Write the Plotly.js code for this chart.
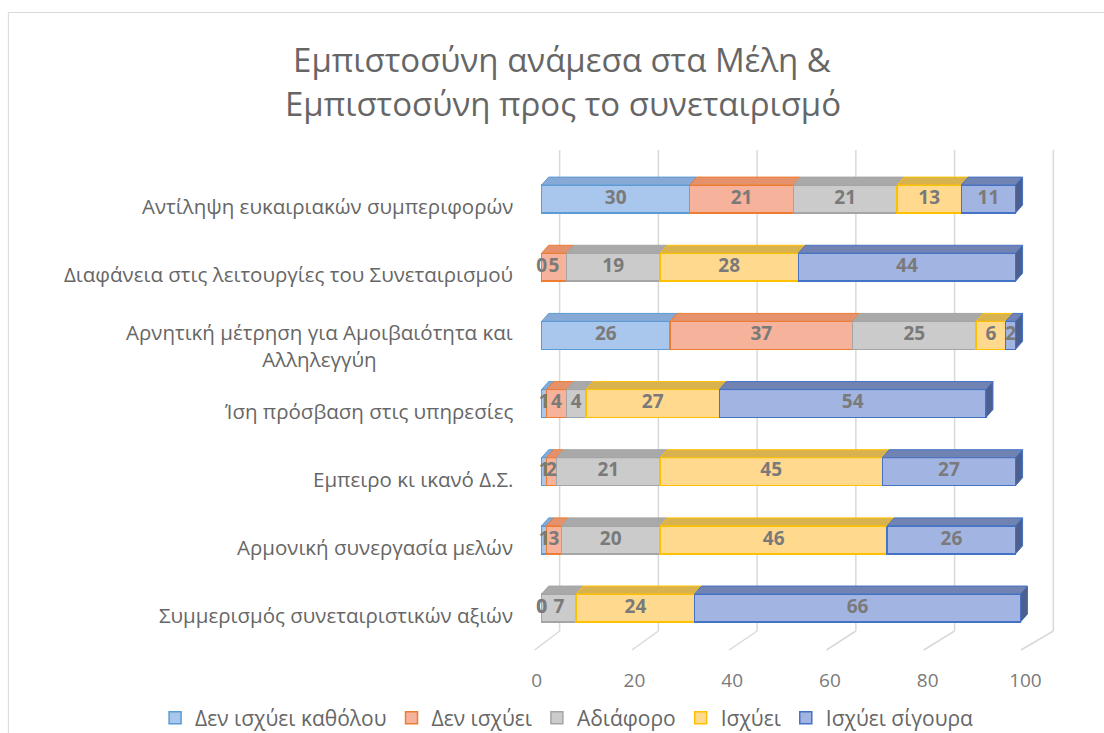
<!DOCTYPE html>
<html>
<head>
<meta charset="utf-8">
<script src="https://cdn.plot.ly/plotly-3.0.1.min.js"></script>
<style>html,body{margin:0;padding:0;background:#fff}#chart{width:1104px;height:733px}</style>
</head>
<body>
<div id="chart"></div>
<script>
// ---------- data ----------
const categories = [
  'Αντίληψη ευκαιριακών συμπεριφορών',
  'Διαφάνεια στις λειτουργίες του Συνεταιρισμού',
  'Αρνητική μέτρηση για Αμοιβαιότητα και<br>Αλληλεγγύη',
  'Ίση πρόσβαση στις υπηρεσίες',
  'Εμπειρο κι ικανό Δ.Σ.',
  'Αρμονική συνεργασία μελών',
  'Συμμερισμός συνεταιριστικών αξιών'
];
const seriesNames = ['Δεν ισχύει καθόλου', 'Δεν ισχύει', 'Αδιάφορο', 'Ισχύει', 'Ισχύει σίγουρα'];
const notAtAll = [30, 0, 26, 1, 1, 1, 0];
const notTrue  = [21, 5, 37, 4, 2, 3, 0];
const neutral  = [21, 19, 25, 4, 21, 20, 7];
const isTrue   = [13, 28, 6, 27, 45, 46, 24];
const surely   = [11, 44, 2, 54, 27, 26, 66];
const xTicks   = [0, 20, 40, 60, 80, 100];
const title1 = 'Εμπιστοσύνη ανάμεσα στα Μέλη &';
const title2 = 'Εμπιστοσύνη προς το συνεταιρισμό';

// ---------- styles ----------
const FONT = 'Open Sans, Noto Sans, sans-serif';
const seriesValues = [notAtAll, notTrue, neutral, isTrue, surely];
const fills  = ['#a9c6ec', '#f6b29a', '#cbcbcb', '#ffd98e', '#a2b4e2'];
const lines  = ['#5b9bd5', '#ed7d31', '#a5a5a5', '#ffc000', '#4472c4'];
const tops   = ['#86a9d6', '#e5916b', '#a9a9a9', '#d8b24e', '#7183b3'];
const sides  = ['#5f86b8', '#c46a3e', '#8a8a8a', '#b8922a', '#4d5f8f'];

// geometry (pixel layout)
const W = 1104, H = 733;
const PXU = 4.93;               // px per x unit
const X0 = 542;                 // px of x=0 (bar front)
const XR = [-6, 105];
const L = X0 + XR[0] * PXU;
const PW = (XR[1] - XR[0]) * PXU;
const R = W - L - PW;
const T = 150, B = 653;
const YR = [6.66, -0.72];
const PH = B - T;
const PYU = PH / (YR[0] - YR[1]);
const BW = 0.41;                // bar thickness
const DX = 7 / PXU, DY = 8 / PYU; // 3D depth
const GX = 18 / PXU;            // back-wall offset of gridlines
const yFloorBack = YR[1] + (631 - T) / PYU;
const yFloorFront = YR[1] + (650 - T) / PYU;
const px2paperX = p => (p - L) / PW;
const px2paperY = p => (B - p) / PH;

const yIdx = categories.map((c, i) => i);

const traces = [];
const shapes = [];

// gridlines on back wall + floor
xTicks.forEach(v => {
  shapes.push({type: 'line', layer: 'below', xref: 'x', yref: 'y',
    x0: v + GX, x1: v + GX, y0: YR[1], y1: yFloorBack,
    line: {color: '#d9d9d9', width: 1.5}});
  shapes.push({type: 'line', layer: 'below', xref: 'x', yref: 'y',
    x0: v + GX, x1: v * 0.985 - 1.4, y0: yFloorBack, y1: yFloorFront,
    line: {color: '#d9d9d9', width: 1.5}});
});

// bars
seriesValues.forEach((vals, s) => {
  traces.push({
    type: 'bar', orientation: 'h', name: seriesNames[s],
    x: vals, y: yIdx, width: BW,
    marker: {color: fills[s], line: {color: lines[s], width: 1.5}},
    hoverinfo: 'skip'
  });
});

// 3D faces and labels
const cum = categories.map(() => 0);
const lastSeg = categories.map((c, i) => {
  let k = -1; seriesValues.forEach((vals, s) => { if (vals[i] > 0) k = s; }); return k;
});
seriesValues.forEach((vals, s) => {
  const lx = [], ly = [], lt = [];
  vals.forEach((v, i) => {
    const x0 = cum[i], x1 = cum[i] + v;
    const yt = i - BW / 2, yb = i + BW / 2;
    if (v > 0) {
      shapes.push({type: 'path', xref: 'x', yref: 'y', layer: 'above',
        path: `M${x0},${yt} L${x1},${yt} L${x1 + DX},${yt - DY} L${x0 + DX},${yt - DY} Z`,
        fillcolor: tops[s], line: {color: lines[s], width: 1}});
      if (lastSeg[i] === s) {
        shapes.push({type: 'path', xref: 'x', yref: 'y', layer: 'above',
          path: `M${x1},${yt} L${x1 + DX},${yt - DY} L${x1 + DX},${yb - DY} L${x1},${yb} Z`,
          fillcolor: sides[s], line: {color: lines[s], width: 1}});
      }
    }
    lx.push(x0 + v / 2); ly.push(i); lt.push(String(v));
    cum[i] = x1;
  });
  traces.push({
    type: 'scatter', mode: 'text', x: lx, y: ly, text: lt,
    textposition: 'middle center', cliponaxis: false, showlegend: false,
    hoverinfo: 'skip',
    textfont: {family: FONT, size: 19, color: '#7a7a7a', weight: 'bold'}
  });
});

// chart border (left & top)
shapes.push({type: 'line', xref: 'paper', yref: 'paper',
  x0: px2paperX(9.5), x1: px2paperX(9.5), y0: px2paperY(12.5), y1: px2paperY(745),
  line: {color: '#d9d9d9', width: 1}});
shapes.push({type: 'line', xref: 'paper', yref: 'paper',
  x0: px2paperX(9.5), x1: px2paperX(1110), y0: px2paperY(12.5), y1: px2paperY(12.5),
  line: {color: '#d9d9d9', width: 1}});

// category labels
const annotations = categories.map((c, i) => ({
  xref: 'paper', yref: 'y', x: px2paperX(515), y: i,
  xanchor: 'right', yanchor: 'middle', align: 'center',
  yshift: c.includes('<br>') ? -10 : -7,
  text: c, showarrow: false,
  font: {family: FONT, size: 20.5, color: '#666666'}
}));
annotations.push({
  xref: 'paper', yref: 'paper', x: px2paperX(563), y: px2paperY(103),
  xanchor: 'center', yanchor: 'middle', text: title2, showarrow: false,
  font: {family: FONT, size: 33, color: '#666666'}
});

const layout = {
  width: W, height: H,
  margin: {l: L, r: R, t: T, b: H - B, pad: 0, autoexpand: false},
  paper_bgcolor: '#ffffff', plot_bgcolor: '#ffffff',
  barmode: 'stack',
  title: {text: title1, x: 562 / W, xref: 'container', xanchor: 'center',
          y: 1 - 60 / H, yref: 'container', yanchor: 'middle',
          font: {family: FONT, size: 33, color: '#666666'}},
  xaxis: {range: XR, tickvals: xTicks.map(v => v * 0.99 - 1), ticktext: xTicks.map(String),
          showgrid: false, zeroline: false, showline: false, ticks: '',
          ticklabelstandoff: 14,
          tickfont: {family: FONT, size: 19, color: '#7a7a7a'}, fixedrange: true},
  yaxis: {range: YR, showticklabels: false, showgrid: false, zeroline: false,
          showline: false, ticks: '', fixedrange: true},
  showlegend: true,
  legend: {orientation: 'h', xref: 'paper', x: px2paperX(156), xanchor: 'left',
           yref: 'paper', y: px2paperY(718), yanchor: 'middle', traceorder: 'normal',
           itemwidth: 30, bgcolor: 'rgba(0,0,0,0)',
           font: {family: FONT, size: 21, color: '#666666'}},
  shapes: shapes,
  annotations: annotations
};

Plotly.newPlot('chart', traces, layout, {displayModeBar: false, staticPlot: true});
</script>
</body>
</html>
